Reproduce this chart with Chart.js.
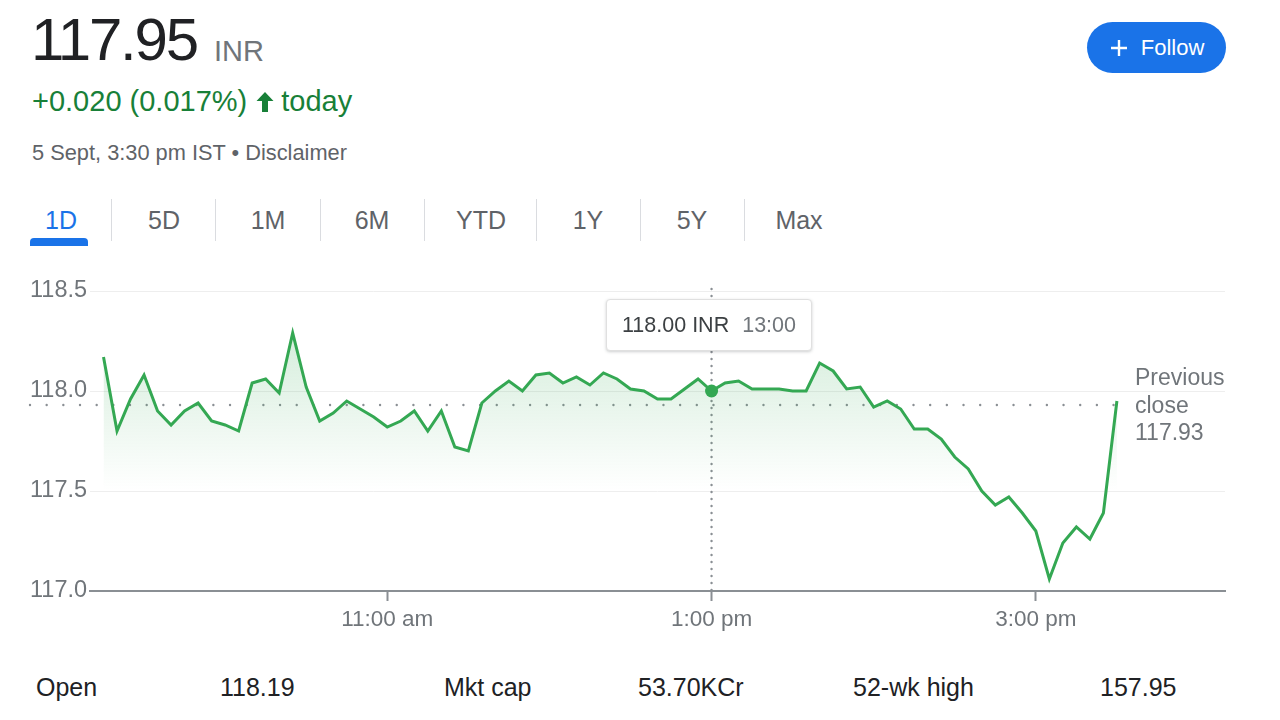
<!DOCTYPE html>
<html>
<head>
<meta charset="utf-8">
<script src="https://cdn.jsdelivr.net/npm/chart.js@4"></script>
<style>
  body { margin: 0; width: 1280px; height: 720px; background: #fff; overflow: hidden; position: relative;
         font-family: Arial, "Liberation Sans", sans-serif; }
  .abs { position: absolute; white-space: nowrap; }
  #price { left: 31px; top: 10px; font-size: 60px; line-height: 60px; color: #202124; letter-spacing: -2.2px; }
  #cur { left: 214px; top: 37px; font-size: 29px; line-height: 29px; color: #70757a; }
  #change { left: 32px; top: 87px; font-size: 29px; line-height: 29px; color: #188038; }
  #change svg { vertical-align: -2px; margin: 0 6px 0 8px; }
  #date { left: 32px; top: 142px; font-size: 21.8px; line-height: 22px; color: #5f6368; }
  .tab { top: 208px; font-size: 25px; line-height: 25px; color: #5f6368; transform: translateX(-50%); }
  .tab.on { color: #1a73e8; }
  .sep { top: 199px; width: 1px; height: 42px; background: #dadce0; }
  #under { left: 30px; top: 238px; width: 58px; height: 8px; background: #1a73e8; border-radius: 4px 4px 0 0; }
  #follow { left: 1087px; top: 22px; width: 139px; height: 51px; border-radius: 26px; background: #1a73e8;
            color: #fff; font-size: 22px; display: flex; align-items: center; justify-content: center; gap: 12px; }
  #chartBox { position: absolute; left: 0; top: 270px; width: 1280px; height: 380px; }
  #tip { left: 606px; top: 299px; width: 204px; height: 50px; background: #fff; border: 1px solid #e0e0e0;
         border-radius: 4px; box-shadow: 0 1px 3px rgba(60,64,67,0.25); display: flex; align-items: center;
         justify-content: center; gap: 13px; font-size: 21.5px; }
  #tip .v { color: #3c4043; }
  #tip .t { color: #70757a; }
  #prev { left: 1135px; top: 364px; font-size: 23px; line-height: 27.5px; color: #70757a; }
  .stat { top: 675px; font-size: 25px; line-height: 25px; color: #202124; }
</style>
</head>
<body>
<div class="abs" id="price">117.95</div>
<div class="abs" id="cur">INR</div>
<div class="abs" id="change">+0.020 (0.017%)<svg width="20" height="22" viewBox="0 0 20 22"><path fill="#188038" d="M10 1L1.5 10h5.5v11h6V10h5.5z"/></svg>today</div>
<div class="abs" id="date">5 Sept, 3:30 pm IST • Disclaimer</div>

<div class="abs tab on" style="left:61px">1D</div>
<div class="abs tab" style="left:164px">5D</div>
<div class="abs tab" style="left:268px">1M</div>
<div class="abs tab" style="left:372px">6M</div>
<div class="abs tab" style="left:481px">YTD</div>
<div class="abs tab" style="left:588px">1Y</div>
<div class="abs tab" style="left:692px">5Y</div>
<div class="abs tab" style="left:799px">Max</div>
<div class="abs sep" style="left:111px"></div>
<div class="abs sep" style="left:215px"></div>
<div class="abs sep" style="left:320px"></div>
<div class="abs sep" style="left:424px"></div>
<div class="abs sep" style="left:536px"></div>
<div class="abs sep" style="left:640px"></div>
<div class="abs sep" style="left:744px"></div>
<div class="abs" id="under"></div>

<div class="abs" id="follow"><svg width="20" height="20" viewBox="0 0 20 20"><path d="M10 2v16M2 10h16" stroke="#fff" stroke-width="2.4"/></svg><span>Follow</span></div>

<div id="chartBox"><canvas id="chart" width="1280" height="380"></canvas></div>

<div class="abs" id="tip"><span class="v">118.00 INR</span><span class="t">13:00</span></div>
<div class="abs" id="prev">Previous<br>close<br>117.93</div>

<div class="abs stat" style="left:36px">Open</div>
<div class="abs stat" style="left:220px">118.19</div>
<div class="abs stat" style="left:444px">Mkt cap</div>
<div class="abs stat" style="left:638px">53.70KCr</div>
<div class="abs stat" style="left:853px">52-wk high</div>
<div class="abs stat" style="left:1100px">157.95</div>

<script>
// intraday prices, 5 minute steps
const times = ['09:15','09:20','09:25','09:30','09:35','09:40','09:45','09:50','09:55','10:00',
  '10:05','10:10','10:15','10:20','10:25','10:30','10:35','10:40','10:45','10:50',
  '10:55','11:00','11:05','11:10','11:15','11:20','11:25','11:30','11:35','11:40',
  '11:45','11:50','11:55','12:00','12:05','12:10','12:15','12:20','12:25','12:30',
  '12:35','12:40','12:45','12:50','12:55','13:00','13:05','13:10','13:15','13:20',
  '13:25','13:30','13:35','13:40','13:45','13:50','13:55','14:00','14:05','14:10',
  '14:15','14:20','14:25','14:30','14:35','14:40','14:45','14:50','14:55','15:00',
  '15:05','15:10','15:15','15:20','15:25','15:30'];
const prices = [118.17,117.80,117.96,118.08,117.90,117.83,117.90,117.94,117.85,117.83,
  117.80,118.04,118.06,117.99,118.29,118.02,117.85,117.89,117.95,117.91,
  117.87,117.82,117.85,117.90,117.80,117.90,117.72,117.70,117.94,118.00,
  118.05,118.00,118.08,118.09,118.04,118.07,118.03,118.09,118.06,118.01,
  118.00,117.96,117.96,118.01,118.06,118.00,118.04,118.05,118.01,118.01,
  118.01,118.00,118.00,118.14,118.10,118.01,118.02,117.92,117.95,117.91,
  117.81,117.81,117.76,117.67,117.61,117.50,117.43,117.47,117.39,117.30,
  117.06,117.24,117.32,117.26,117.39,117.95];
const prevClose = 117.93;
const hoverTime = '13:00';
const hoverPrice = 118.00;
const xTickTimes = ['11:00','13:00','15:00'];
const xTickLabels = ['11:00 am','1:00 pm','3:00 pm'];
const yTicks = [117.0, 117.5, 118.0, 118.5];
const xRange = ['09:10','16:10'];

const toMin = t => { const [h, m] = t.split(':').map(Number); return h * 60 + m; };
const green = '#34a853';

const refLines = {
  id: 'refLines',
  beforeDatasetsDraw(chart) {
    const { ctx, chartArea, scales: { x, y } } = chart;
    ctx.save();
    ctx.strokeStyle = '#8a8f94';
    ctx.lineCap = 'round';
    ctx.lineWidth = 2.4;
    // previous close
    const py = y.getPixelForValue(prevClose);
    ctx.setLineDash([0, 16.67]);
    ctx.beginPath(); ctx.moveTo(30, py); ctx.lineTo(1123, py); ctx.stroke();
    // crosshair
    const hx = x.getPixelForValue(toMin(hoverTime));
    ctx.setLineDash([0, 7]);
    ctx.beginPath(); ctx.moveTo(hx, chartArea.top - 2); ctx.lineTo(hx, chartArea.bottom); ctx.stroke();
    ctx.restore();
  }
};

new Chart(document.getElementById('chart'), {
  type: 'line',
  data: {
    datasets: [{
      data: times.map((t, i) => ({ x: toMin(t), y: prices[i] })),
      borderColor: green,
      borderWidth: 3,
      pointRadius: 0,
      tension: 0,
      fill: 'start',
      backgroundColor: ctx => {
        const { chart } = ctx;
        const { chartArea, scales } = chart;
        if (!chartArea) return 'rgba(52,168,83,0.1)';
        const g = chart.ctx.createLinearGradient(0, chartArea.top, 0, scales.y.getPixelForValue(117.5));
        g.addColorStop(0, 'rgba(52,168,83,0.26)');
        g.addColorStop(1, 'rgba(52,168,83,0)');
        return g;
      }
    }, {
      data: [{ x: toMin(hoverTime), y: hoverPrice }],
      showLine: false,
      pointRadius: 6.5,
      pointBackgroundColor: green,
      pointBorderWidth: 0
    }]
  },
  options: {
    responsive: false,
    animation: false,
    events: [],
    layout: { padding: { left: 30, right: 55, top: 21, bottom: 0 } },
    plugins: { legend: { display: false }, tooltip: { enabled: false } },
    scales: {
      x: {
        type: 'linear',
        min: toMin(xRange[0]),
        max: toMin(xRange[1]),
        afterFit: s => { s.height = 59; },
        afterBuildTicks: s => { s.ticks = xTickTimes.map(t => ({ value: toMin(t) })); },
        ticks: {
          callback: v => xTickLabels[xTickTimes.map(toMin).indexOf(v)],
          color: '#70757a', font: { family: 'Arial, "Liberation Sans"', size: 22.5 }, padding: 5,
          maxRotation: 0, autoSkip: false
        },
        grid: { drawOnChartArea: false, drawTicks: true, tickLength: 10, tickColor: '#8a8f94', tickWidth: 2 },
        border: { display: true, color: '#8a8f94', width: 2 }
      },
      y: {
        min: 117.0,
        max: 118.5,
        afterFit: s => { s.width = 60; },
        afterBuildTicks: s => { s.ticks = yTicks.map(v => ({ value: v })); },
        ticks: {
          callback: v => v.toFixed(1),
          crossAlign: 'far',
          color: '#70757a', font: { family: 'Arial, "Liberation Sans"', size: 23.5 }
        },
        grid: { color: c => c.tick && c.tick.value === 117 ? 'rgba(0,0,0,0)' : '#eeeeee', drawTicks: false, lineWidth: 1 },
        border: { display: false }
      }
    }
  },
  plugins: [refLines]
});
</script>
</body>
</html>
